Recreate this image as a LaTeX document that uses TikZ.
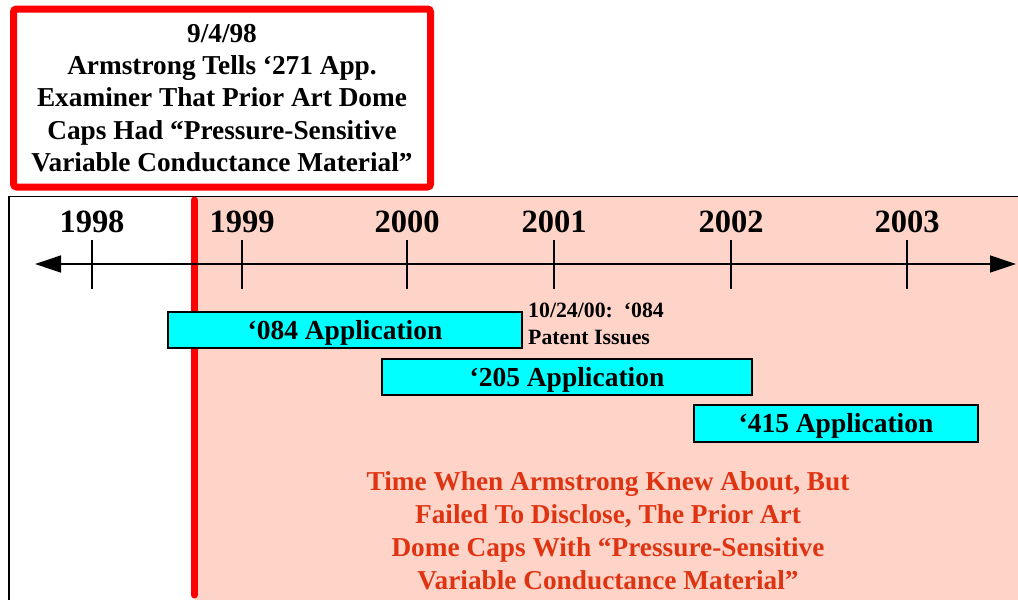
\documentclass[tikz,border=0pt]{standalone}
\usepackage{fontspec}
\setmainfont{Liberation Serif}
\usetikzlibrary{arrows.meta}
\definecolor{pinkbg}{RGB}{255,212,200}
\definecolor{redtxt}{RGB}{222,52,18}
\definecolor{cyanbox}{RGB}{0,255,255}
\tikzset{
  yearlbl/.style={font=\fontsize{32.5}{32.5}\selectfont\bfseries, inner sep=0pt},
  appbox/.style={draw=black, line width=1.2pt, fill=cyanbox, font=\fontsize{27.5}{27.5}\selectfont\bfseries, inner sep=0pt, text height=18pt, text depth=0pt},
  tickline/.style={line width=1.3pt},
}
\begin{document}
\begin{tikzpicture}[x=1pt,y=-1pt]
\useasboundingbox (0,0) rectangle (1018,600);
% pink region
\fill[pinkbg] (195,197) rectangle (1018,600);
% frame
\draw[line width=1.3pt] (9,600) -- (9,196.5) -- (1018,196.5);
% red vertical line
\draw[red, line width=7pt, line cap=round] (194,200) -- (194,595);
% top box
\node[draw=red, line width=7pt, rounded corners=3pt, fill=white, minimum width=417pt, minimum height=178pt, inner sep=0pt,
      align=center, font=\fontsize{27.3}{32.3}\selectfont\bfseries] (note) at (222,98)
  {9/4/98\\Armstrong Tells ‘271 App.\\Examiner That Prior Art Dome\\Caps Had “Pressure-Sensitive\\Variable Conductance Material”};
% timeline
\coordinate (tl) at (35,264);
\coordinate (tr) at (1016,264);
\draw[line width=1.3pt, {Triangle[length=26pt,width=17pt]}-{Triangle[length=26pt,width=17pt]}] (tl) -- (tr);
% ticks and years
\foreach \x/\y in {92/1998, 242/1999, 407/2000, 554/2001, 731/2002, 907/2003}{
  \draw[tickline] (\x,240) -- (\x,289);
  \node[yearlbl] (y\y) at (\x,222) {\y};
}
% applications
\node[appbox, minimum width=354pt, minimum height=36pt] (a084) at (345,330) {‘084 Application};
\node[appbox, minimum width=370pt, minimum height=36pt] (a205) at (567,377) {‘205 Application};
\node[appbox, minimum width=284pt, minimum height=37pt] (a415) at (836,423.5) {‘415 Application};
% patent issues label
\node[anchor=north west, align=left, inner sep=0pt, font=\fontsize{21.8}{27}\selectfont\bfseries] (iss) at (528,303)
  {10/24/00:\ \ ‘084\\Patent Issues};
% red text
\node[align=center, inner sep=0pt, text=redtxt, font=\fontsize{27.3}{33}\selectfont\bfseries] (knew) at (608,531)
  {Time When Armstrong Knew About, But\\Failed To Disclose, The Prior Art\\Dome Caps With “Pressure-Sensitive\\Variable Conductance Material”};
\end{tikzpicture}
\end{document}
